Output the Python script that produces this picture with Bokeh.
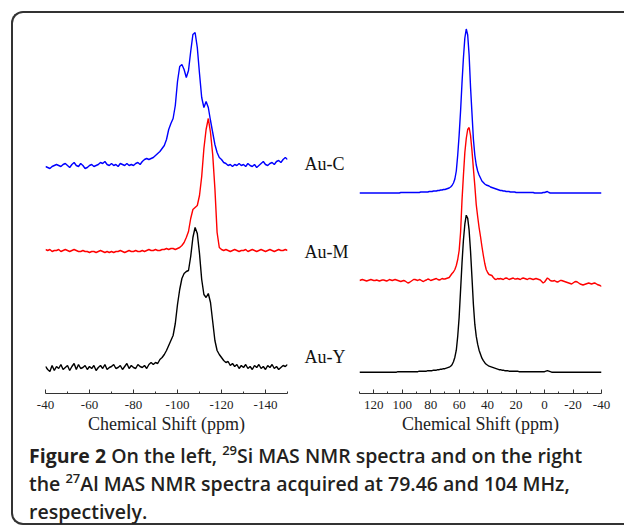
import numpy as np
from bokeh.plotting import figure
from bokeh.models import Range1d, FixedTicker, Div
from bokeh.layouts import row, column
from bokeh.core.properties import value
from bokeh.embed import file_html
from bokeh.resources import INLINE

samples = ["Au-C", "Au-M", "Au-Y"]
colors = ["#0000ff", "#ff0000", "#000000"]

# 29Si spectra, sampled every 1 ppm from -40 to -150
si_ppm = np.arange(-40, -151, -1)
si_c = [
    -1, -2, -3, -1, 0, 1, 0, -1, 1, 2,
    0, -2, 1, 3, 0, -1, 2, 0, -3, -2,
    0, 1, -1, 0, 1, 3, 2, 4, 1, 0,
    2, 0, 1, -1, 2, 1, 0, 2, 0, 1,
    0, 2, 3, 1, 4, 6, 7, 6, 7, 8,
    10, 12, 14, 17, 20, 26, 36, 42, 47, 60,
    84, 99, 101, 96, 88, 95, 114, 131, 133, 118,
    92, 68, 58, 64, 58, 45, 33, 21, 13, 8,
    6, 3, 2, 0, 1, -1, 1, 0, 2, 0,
    1, -1, 2, 0, -1, 1, -2, 0, 2, 4,
    1, 0, 2, 3, 1, 4, 5, 3, 6, 8, 6,
]
si_m = [
    1, 0, 1, -1, 0, 0, 1, -1, 0, 1,
    0, -1, 0, 1, 0, -1, -1, 0, -1, -1,
    -2, -1, -1, -2, -1, 0, -1, -2, -1, -2,
    -1, -2, -1, -1, 0, -1, -2, -1, 0, -1,
    -1, 0, -1, -1, 0, -1, 0, 1, 0, 0,
    1, 0, 0, 1, 1, 2, 1, 2, 2, 1,
    2, 3, 5, 8, 13, 19, 32, 41, 43, 45,
    55, 74, 102, 121, 132, 118, 96, 62, 18, 3,
    1, 0, 1, 0, -1, 0, 1, 0, -1, 0,
    0, 1, -1, 0, 1, 0, -1, 0, 1, 0,
    -1, 0, 1, 0, -1, 0, 1, 0, 0, 1, 0,
]
si_y = [
    1, -2, -4, 2, -3, 1, -1, 3, -2, 0,
    2, -3, 1, 4, -2, 3, -1, 0, 2, -2,
    1, -1, 2, -3, 0, 2, -1, 3, -2, 0,
    1, 3, -1, 0, 2, -2, 1, 4, -1, 2,
    0, -1, 3, 1, 0, 2, -1, 3, 5, 3,
    5, 4, 8, 10, 13, 17, 22, 27, 32, 44,
    63, 78, 89, 94, 96, 97, 111, 130, 140, 134,
    114, 88, 73, 70, 74, 65, 46, 27, 17, 13,
    10, 7, 5, 6, 2, 4, 1, 3, -1, 2,
    0, 3, -1, 1, -2, 2, 0, 3, -1, 1,
    -2, 2, 0, 3, -1, 1, -2, 0, 2, 1, 3,
]
si_offsets = [228, 143, 26]

# 27Al spectra, sampled every 1 ppm from 130 to -40
al_ppm = np.arange(130, -41, -1)
al_c = [
    0, 0, 0, 0, 0, 0, 0, 0, 0, 0,
    0, 0, 0, 0, 0, 0, 0, 0, 0, 0,
    0, 0, 0, 0, 0, 0, 0, 0, 0, 0.5,
    0.5, 0.5, 0.5, 0.5, 0.5, 0.5, 0.5, 0.5, 0.5, 0.5,
    0.5, 0.5, 0.5, 1, 1, 1, 1, 1, 1, 1.5,
    1.5, 1.5, 2, 2, 2, 2.5, 2.5, 3, 3, 3.5,
    3.5, 4, 4.5, 5, 6, 7.5, 10, 14, 22, 38,
    58, 82, 110, 135, 155, 164, 158, 138, 106, 80,
    54, 38, 28, 22, 18, 15, 12, 10.5, 9, 8,
    7.5, 7, 6, 5.5, 5, 4.5, 4, 3.5, 3, 2.5,
    2.5, 2, 2, 1.5, 1.5, 1.5, 1, 1, 1, 1,
    0.5, 0.5, 0.5, 0.5, 0.5, 0.5, 0.5, 0.5, 0.5, 0.5,
    0.5, 0.5, 0.5, 0, 0, 0, 0, 0, 0, 0.5,
    0.5, 1, 1.5, 0.5, 0, 0, 0, 0, 0, 0,
    0, 0, 0, 0, 0, 0, 0, 0, 0, 0,
    0, 0, 0, 0, 0, 0, 0, 0, 0, 0,
    0, 0, 0, 0, 0, 0, 0, 0, 0, 0, 0,
]
al_m = [
    0, 0.5, 1, 0.5, 0, -0.5, 0, 0.5, 1, 0.5,
    0, 0, 0.5, 0, -0.5, 0, 0.5, 0.5, 0, -0.5,
    0, 1, 0.5, 0, 0.5, 1, 0.5, 0, -0.5, -1,
    -0.5, 0, -0.5, -1.5, -2.5, -2, -1, 0, 1, 1,
    0.5, 0, 1, 0.5, -0.5, -1, 0, 0.5, 1.5, 1,
    0, 0.5, 1, 1.5, 2, 1, 0.5, 1, 2, 1.5,
    1.5, 2, 2.5, 3, 5, 7, 8.5, 11, 15, 21,
    30, 48, 80, 105, 128, 142, 151, 153, 145, 130,
    112, 95, 76, 64, 53, 44, 34, 25, 17, 11,
    8, 6, 5.5, 5, 3, 1.5, 1, 2, 1.5, 2,
    1.5, 1, 2, 2.5, 2, 1, 1.5, 2, 2.5, 1.5,
    1.5, 2, 1.5, 1, 2, 2.5, 2, 1.5, 1, 2,
    2, 1.5, 1, 1.5, 2, 1.5, 1, 0.5, -1, -2.5,
    -1.5, 0.5, 2.5, 1.5, 0, -0.5, -0.5, 0, -1, -1.5,
    -1, 0, 0, -0.5, -1, -1.5, -2, -2.5, -3, -3.5,
    -2.5, -1.5, -1, -1.5, -2.5, -3.5, -4, -4.5, -4, -3.5,
    -3, -2.5, -3, -3.5, -3, -2.5, -3, -4, -4.5, -5, -6,
]
al_y = [
    0, 0, 0, 0, 0, 0, 0, 0, 0, 0,
    0, 0, 0, 0, 0, 0, 0, 0, 0, 0,
    0, 0, 0, 0, 0, 0, 0, 0.5, 0.5, 0.5,
    0.5, 0.5, 0.5, 0.5, 0.5, 0.5, 0.5, 0.5, 0.5, 0.5,
    0.5, 0.5, 1, 1, 1, 1, 1, 1, 1.5, 1.5,
    1.5, 1.5, 2, 2, 2, 2.5, 2.5, 3, 3, 3.5,
    3.5, 4, 4.5, 5, 6, 7.5, 10.5, 15, 22, 36,
    55, 82, 109, 132, 148, 157, 154, 142, 121, 95,
    68, 48, 36, 28, 22, 18, 14, 11.5, 9.5, 8,
    7, 6, 5.5, 5, 4.5, 4, 3.5, 3, 2.5, 2.5,
    2, 2, 1.5, 1.5, 1.5, 1, 1, 1, 1, 1,
    1, 1, 0.5, 0.5, 0.5, 0.5, 0.5, 0.5, 0.5, 0.5,
    0.5, 0.5, 0.5, 0.5, 0.5, 0.5, 0.5, 0.5, 0.5, 0.5,
    0.5, 1, 1.5, 1, 0.5, 0, 0, 0, 0, 0,
    0, 0, 0, 0, 0, 0, 0, 0, 0, 0,
    0, 0, 0, 0, 0, 0, 0, 0, 0, 0,
    0, 0, 0, 0, 0, 0, 0, 0, 0, 0, 0,
]
al_offsets = [200.5, 113, 21.3]

si_major = [-40, -60, -80, -100, -120, -140]
si_minor = [-50, -70, -90, -110, -130, -150]
al_major = [120, 100, 80, 60, 40, 20, 0, -20, -40]
al_minor = [130, 110, 90, 70, 50, 30, 10, -10, -30]

label_y = [230, 142, 37]
axis_title = "Chemical Shift (ppm)"

H = 428
MB_TOP = 7
MB_BOT = 48


def base_fig(width, xr, mbl, mbr):
    p = figure(width=width, height=H, x_range=Range1d(*xr), y_range=Range1d(0, 373),
               output_backend="svg", toolbar_location=None, y_axis_location=None,
               min_border_left=mbl, min_border_right=mbr, min_border_top=MB_TOP,
               min_border_bottom=MB_BOT)
    p.grid.visible = False
    p.outline_line_color = None
    p.background_fill_color = None
    p.border_fill_color = None
    return p


def panel(ppm, series, offsets, xr, majors, minors, width, mbl, mbr):
    p = base_fig(width, xr, mbl, mbr)
    for s, off, c in zip(series, offsets, colors):
        p.line(ppm, np.asarray(s, dtype=float) + off, line_color=c, line_width=1.4)
    ax = p.xaxis[0]
    ax.ticker = FixedTicker(ticks=majors, minor_ticks=minors)
    ax.major_label_overrides = {t: str(t) for t in majors}
    ax.major_tick_in = 4
    ax.major_tick_out = 0
    ax.minor_tick_in = 2
    ax.minor_tick_out = 0
    ax.axis_line_color = "#333333"
    ax.major_tick_line_color = "#333333"
    ax.minor_tick_line_color = "#333333"
    ax.major_label_text_font = "Liberation Serif"
    ax.major_label_text_font_size = "13px"
    ax.major_label_text_color = "#222222"
    ax.major_label_standoff = 7
    ax.axis_label = axis_title
    ax.axis_label_text_font = "Liberation Serif"
    ax.axis_label_text_font_size = "18px"
    ax.axis_label_text_font_style = "normal"
    ax.axis_label_text_color = "#222222"
    ax.axis_label_standoff = 2
    return p


p1 = panel(si_ppm, [si_c, si_m, si_y], si_offsets, (-40, -150), si_major, si_minor, 288, 32, 14)
p2 = panel(al_ppm, [al_c, al_m, al_y], al_offsets, (130, -40), al_major, al_minor, 274, 9, 23)

# middle strip holding the sample names
pm = base_fig(49, (0, 49), 0, 0)
pm.xaxis.visible = False
pm.text(x=[3, 3, 3], y=label_y, text=samples, text_font=value("Liberation Serif"),
        text_font_size="18px", text_baseline="middle", text_color="#111111")

sup = "font-size:13px; vertical-align:8px; line-height:0;"
caption_html = (
    "<div style=\"font-family:'Open Sans'; font-size:19.5px; line-height:28px; color:#231f20;"
    " padding:1px 0 0 16px; margin:0; font-weight:600; white-space:nowrap;\">"
    "<span style='font-weight:700'>Figure 2</span> On the left, "
    f"<span style='{sup}'>29</span>Si MAS NMR spectra and on the right<br>"
    f"the <span style='{sup}'>27</span>Al MAS NMR spectra acquired at 79.46 and 104 MHz,<br>"
    "respectively.</div>"
)
cap = Div(text=caption_html, width=611, height=82, margin=0, styles={"overflow": "visible"})

layout = column(row(p1, pm, p2), cap,
                styles={"border": "2px solid #333333", "border-right": "none",
                        "border-radius": "12px 0 0 12px", "margin": "11px 0 0 11px"})

open("out.html", "w").write(file_html(layout, INLINE))
